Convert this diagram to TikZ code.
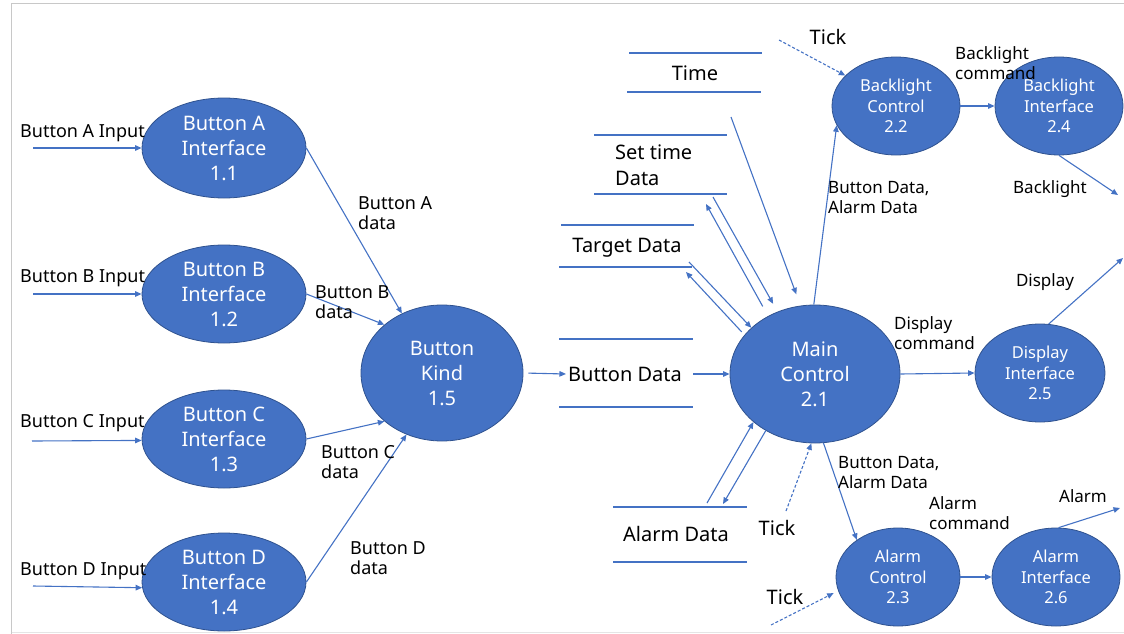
\documentclass[tikz,border=0pt]{standalone}
\usepackage{fontspec}
\setmainfont{Noto Sans}
\usetikzlibrary{shapes.geometric,arrows.meta}
\definecolor{bfill}{HTML}{4472C4}
\definecolor{bdark}{HTML}{2F528F}
\definecolor{frameg}{HTML}{C8C8C8}
\tikzset{
  proc/.style={ellipse, fill=bfill, draw=bdark, line width=0.8pt, text=white, inner sep=0pt, align=center},
  bigtxt/.style={font=\fontsize{20}{25}\selectfont},
  smalltxt/.style={font=\fontsize{16.5}{20.5}\selectfont},
  flow/.style={draw=bfill, line width=1.1pt, -{Triangle[length=6.5pt,width=5.5pt]}},
  dflow/.style={flow, dash pattern=on 3pt off 2pt},
  storeline/.style={draw=bfill, line width=1.4pt},
  lbl/.style={text=black, inner sep=0pt, align=left, font=\fontsize{18}{20.5}\selectfont},
  slbl/.style={text=black, inner sep=0pt, align=left, font=\fontsize{17}{20}\selectfont},
  storetxt/.style={text=black, inner sep=2pt, align=left, font=\fontsize{20}{26}\selectfont},
}
\begin{document}
\begin{tikzpicture}[x=1pt,y=-1pt]
\useasboundingbox (0,0) rectangle (1124,634);
% frame
\draw[frameg, line width=1.4pt] (11.5,634) -- (11.5,3.5) -- (1124,3.5);
\draw[gray!20, line width=1pt] (11.5,632) -- (1124,632);

% process ellipses
\node[proc, bigtxt, minimum width=164pt, minimum height=100pt] (bA) at (224,148) {Button A\\Interface\\1.1};
\node[proc, bigtxt, minimum width=164pt, minimum height=98pt] (bB) at (224,294) {Button B\\Interface\\1.2};
\node[proc, bigtxt, minimum width=164pt, minimum height=98pt] (bC) at (224,439) {Button C\\Interface\\1.3};
\node[proc, bigtxt, minimum width=164pt, minimum height=98pt] (bD) at (224,582) {Button D\\Interface\\1.4};
\node[proc, bigtxt, minimum width=162pt, minimum height=136pt] (kind) at (442,373) {Button\\Kind\\1.5};
\node[proc, bigtxt, minimum width=170pt, minimum height=138pt] (main) at (815,374) {Main\\Control\\2.1};
\node[proc, smalltxt, minimum width=128pt, minimum height=98pt] (bc) at (896,106) {Backlight\\Control\\2.2};
\node[proc, smalltxt, minimum width=128pt, minimum height=98pt] (bi) at (1059,106) {Backlight\\Interface\\2.4};
\node[proc, smalltxt, minimum width=130pt, minimum height=98pt] (di) at (1040,373) {Display\\Interface\\2.5};
\node[proc, smalltxt, minimum width=124pt, minimum height=98pt] (ac) at (898,577) {Alarm\\Control\\2.3};
\node[proc, smalltxt, minimum width=128pt, minimum height=98pt] (ai) at (1056,577) {Alarm\\Interface\\2.6};

% data stores
\draw[storeline] (629,53) -- (762,53) (627,92) -- (761,92);
\node[storetxt] (sTime) at (695,73) {Time};
\draw[storeline] (594,135) -- (727,135) (594,194) -- (727,194);
\node[storetxt, anchor=west, inner sep=0pt] (sSet) at (615,165) {Set time\\Data};
\draw[storeline] (561,225) -- (694,225) (559,267) -- (692,267);
\node[storetxt] (sTarget) at (627,248) {Target Data};
\draw[storeline] (559,339) -- (693,339) (559,407) -- (693,407);
\node[storetxt] (sBtn) at (625,374) {Button Data};
\draw[storeline] (613,507) -- (747,507) (613,562) -- (747,562);
\node[storetxt] (sAlarm) at (676,534) {Alarm Data};

% free ends
\coordinate (inA) at (33,148);
\coordinate (inB) at (33,294);
\coordinate (inC) at (32,441);
\coordinate (inD) at (33,586);
\coordinate (timeOut) at (731,117);
\coordinate (setA) at (713,197);
\coordinate (setB) at (706,204);
\coordinate (tgtA) at (689,262);
\coordinate (tgtB) at (686,272);
\coordinate (almA) at (707,503);
\coordinate (almB) at (723,504);
\coordinate (tickM) at (786,511);
\coordinate (tickA) at (771,625);
\coordinate (tickB) at (779,40);
\coordinate (outAlarm) at (1120,508);
\coordinate (outDisp) at (1123,258);
\coordinate (outBack) at (1118,195);

% input flows
\draw[flow] (inA) -- (bA.west);
\draw[flow] (inB) -- (bB.west);
\draw[flow] (inC) -- (bC.181);
\draw[flow] (inD) -- (bD.184);
\node[lbl, anchor=west] (lA) at (20,133) {Button A Input};
\node[lbl, anchor=west] (lB) at (20,278) {Button B Input};
\node[lbl, anchor=west] (lC) at (20,423) {Button C Input};
\node[lbl, anchor=west] (lD) at (20,571) {Button D Input};

% to kind
\draw[flow] (bA.east) -- (kind.124);
\draw[flow] (bB.east) -- (kind.140);
\draw[flow] (bC.east) -- (kind.220);
\draw[flow] (bD.east) -- (kind.240);
\node[lbl, anchor=west] (dA) at (358,213) {Button A\\data};
\node[lbl, anchor=west] (dB) at (315,302) {Button B\\data};
\node[lbl, anchor=west] (dC) at (321,462) {Button C\\data};
\node[lbl, anchor=west] (dD) at (350,558) {Button D\\data};

% kind -> store -> main
\draw[flow, shorten <=5pt] (kind.east) -- (sBtn.west);
\draw[flow, shorten <=9pt] (sBtn.east) -- (main.west);

% stores <-> main
\draw[flow, shorten >=12pt] (timeOut) -- (main.102);
\draw[flow, shorten >=9pt] (setA) -- (main.121);
\draw[flow, shorten <=11pt] (main.129) -- (setB);
\draw[flow] (tgtA) -- (main.144);
\draw[flow, shorten <=4pt] (main.151) -- (tgtB);
\draw[flow] (almA) -- (main.218);
\draw[flow] (main.229) -- (almB);
\draw[dflow] (tickM) -- (main.267);
\node[storetxt, inner sep=0pt] (tM) at (777,528) {Tick};

% main -> alarm control
\draw[flow] (main.277) -- (ac.138);
\node[slbl, anchor=west] (lbl1) at (838,473) {Button Data,\\Alarm Data};
\draw[dflow, shorten >=5pt] (tickA) -- (ac.193);
\node[storetxt, inner sep=0pt] (tA) at (785,597) {Tick};
\draw[flow] (ac.east) -- (ai.west);
\node[slbl, anchor=west] (lbl2) at (929,513) {Alarm\\command};
\draw[flow] (ai.87) -- (outAlarm);
\node[slbl] (lbl3) at (1083,496) {Alarm};

% main -> display
\draw[flow] (main.east) -- (di.west);
\node[slbl, anchor=west] (lbl4) at (894,333) {Display\\command};
\draw[flow] (di.80) -- (outDisp);
\node[slbl] (lbl5) at (1045,282) {Display};

% main -> backlight
\draw[flow] (main.91) -- (bc.198);
\node[slbl, anchor=west] (lbl6) at (828,198) {Button Data,\\Alarm Data};
\draw[dflow] (tickB) -- (bc.149);
\node[storetxt, inner sep=0pt] (tB) at (828,37) {Tick};
\draw[flow] (bc.east) -- (bi.west);
\node[slbl, anchor=west] (lbl7) at (955,63) {Backlight\\command};
\draw[flow] (bi.south) -- (outBack);
\node[slbl] (lbl8) at (1050,189) {Backlight};
\end{tikzpicture}
\end{document}
